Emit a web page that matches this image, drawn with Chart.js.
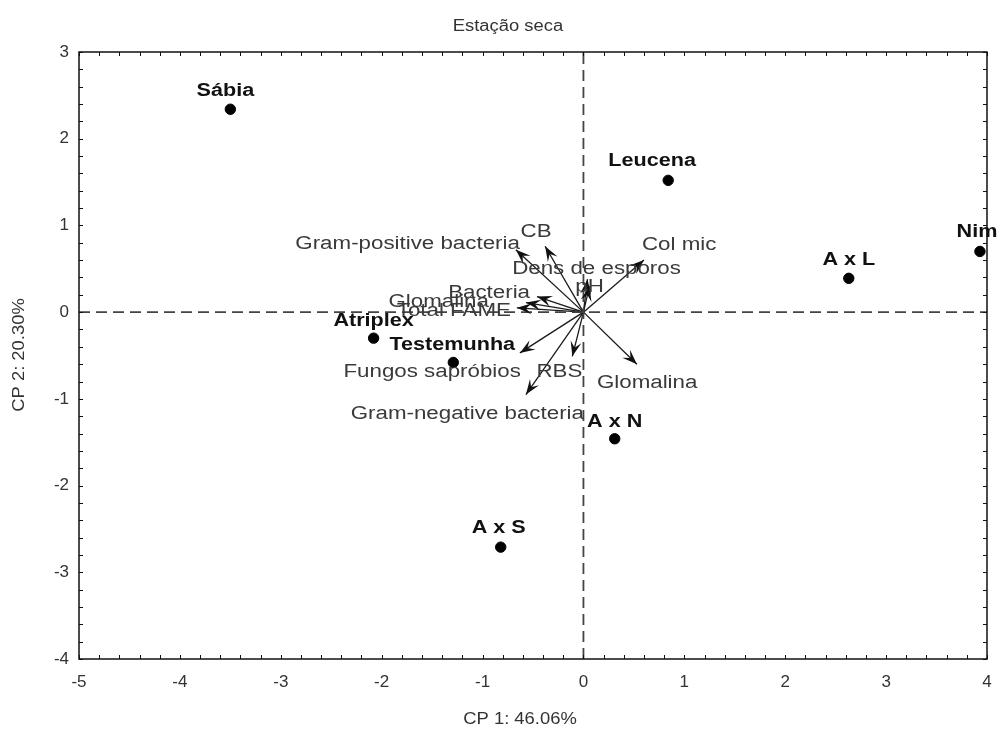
<!DOCTYPE html>
<html>
<head>
<meta charset="utf-8">
<script src="https://cdn.jsdelivr.net/npm/chart.js@4/dist/chart.umd.min.js"></script>
<style>
  html, body { margin: 0; padding: 0; background: #fff; overflow: hidden; }
  canvas { display: block; }
</style>
</head>
<body>
<canvas id="pca" width="997" height="733"></canvas>
<script>
// Scores of the treatments on the first two principal components
const treatments = ['Sábia', 'Leucena', 'Nim', 'A x L', 'Atriplex', 'Testemunha', 'A x N', 'A x S'];
const scoreCP1 = [-3.50, 0.84, 3.93, 2.63, -2.08, -1.29, 0.31, -0.82];
const scoreCP2 = [2.34, 1.52, 0.70, 0.39, -0.30, -0.58, -1.46, -2.71];

// Variable loadings (arrows drawn from the origin)
const variables = ['Gram-positive bacteria', 'CB', 'Col mic', 'Dens de esporos', 'pH', 'Bacteria',
                   'Glomalina', 'Total FAME', 'Fungos sapróbios', 'RBS', 'Glomalina', 'Gram-negative bacteria'];
const loadCP1 = [-0.67, -0.38, 0.60, 0.06, 0.04, -0.46, -0.57, -0.66, -0.63, -0.11, 0.53, -0.57];
const loadCP2 = [0.72, 0.76, 0.60, 0.30, 0.38, 0.18, 0.11, 0.05, -0.47, -0.51, -0.60, -0.95];

// Axis ranges and labels
const xTicks = [-5, -4, -3, -2, -1, 0, 1, 2, 3, 4];
const yTicks = [-4, -3, -2, -1, 0, 1, 2, 3];
const chartTitle = 'Estação seca';
const xTitle = 'CP 1: 46.06%';
const yTitle = 'CP 2: 20.30%';

// Text placement for the arrow labels: [align, dx, dy] in pixels from the arrow tip
const arrowLabelPlacement = [
  ['right', 4, -6], ['center', -9, -14], ['left', -2, -15], ['center', 7, -17],
  ['center', 2, 8], ['right', -7, -4], ['right', -37, -1], ['right', -6, 3],
  ['right', 1, 19], ['right', 10, 16], ['left', -40, 19], ['right', 58, 20]
];
// Text placement for the treatment names: [dx, dy] in pixels from the dot
const pointLabelPlacement = [[-5, -18], [-16, -19], [-3, -19], [0, -18], [0, -17], [-1, -17], [0, -17], [-2, -19]];

const FONT = '"Liberation Sans", Arial, sans-serif';

function stretchedText(ctx, text, x, y, align, font, color, sx) {
  ctx.save();
  ctx.font = font;
  ctx.fillStyle = color;
  ctx.textAlign = align;
  ctx.textBaseline = 'middle';
  ctx.translate(x, y);
  ctx.scale(sx, 1);
  ctx.fillText(text, 0, 0);
  ctx.restore();
}

const biplotDecor = {
  id: 'biplotDecor',
  afterDatasetsDraw(chart) {
    const { ctx, chartArea: a, scales: { x, y } } = chart;
    ctx.save();
    // Frame
    ctx.strokeStyle = '#111';
    ctx.lineWidth = 1.5;
    ctx.strokeRect(a.left, a.top, a.right - a.left, a.bottom - a.top);
    // Inward minor ticks on all four sides
    ctx.lineWidth = 1;
    ctx.beginPath();
    for (let i = 0; i <= 45; i++) {
      const v = xTicks[0] + i * 0.2;
      const px = Math.round(x.getPixelForValue(v)) + 0.5;
      ctx.moveTo(px, a.bottom); ctx.lineTo(px, a.bottom - 4);
      ctx.moveTo(px, a.top); ctx.lineTo(px, a.top + 4);
    }
    for (let i = 0; i <= 35; i++) {
      const v = yTicks[0] + i * 0.2;
      const py = Math.round(y.getPixelForValue(v)) + 0.5;
      ctx.moveTo(a.left, py); ctx.lineTo(a.left + 4, py);
      ctx.moveTo(a.right, py); ctx.lineTo(a.right - 4, py);
    }
    ctx.stroke();

    // Arrowheads at the loading tips
    const ox = x.getPixelForValue(0), oy = y.getPixelForValue(0);
    ctx.fillStyle = '#111';
    for (let i = 0; i < variables.length; i++) {
      const tx = x.getPixelForValue(loadCP1[i]), ty = y.getPixelForValue(loadCP2[i]);
      const ang = Math.atan2(ty - oy, tx - ox);
      const c = Math.cos(ang), s = Math.sin(ang);
      const L = 15, W = 5.5;
      ctx.beginPath();
      ctx.moveTo(tx, ty);
      ctx.lineTo(tx - L * c - W * s, ty - L * s + W * c);
      ctx.lineTo(tx - 0.6 * L * c, ty - 0.6 * L * s);
      ctx.lineTo(tx - L * c + W * s, ty - L * s - W * c);
      ctx.closePath();
      ctx.fill();
    }
    // Arrow labels
    for (let i = 0; i < variables.length; i++) {
      const tx = x.getPixelForValue(loadCP1[i]), ty = y.getPixelForValue(loadCP2[i]);
      const [align, dx, dy] = arrowLabelPlacement[i];
      stretchedText(ctx, variables[i], tx + dx, ty + dy, align, '18px ' + FONT, '#3a3a3a', 1.24);
    }
    // Treatment labels
    for (let i = 0; i < treatments.length; i++) {
      const px = x.getPixelForValue(scoreCP1[i]), py = y.getPixelForValue(scoreCP2[i]);
      const [dx, dy] = pointLabelPlacement[i];
      stretchedText(ctx, treatments[i], px + dx, py + dy, 'center', 'bold 18px ' + FONT, '#111', 1.2);
    }
    // Titles
    stretchedText(ctx, chartTitle, 508, 27, 'center', '16px ' + FONT, '#333', 1.15);
    stretchedText(ctx, xTitle, 520, 720, 'center', '16px ' + FONT, '#333', 1.15);
    ctx.save();
    ctx.translate(20, 355);
    ctx.rotate(-Math.PI / 2);
    stretchedText(ctx, yTitle, 0, 0, 'center', '16px ' + FONT, '#333', 1.15);
    ctx.restore();
    ctx.restore();
  }
};

const datasets = [
  { data: [{ x: xTicks[0], y: 0 }, { x: xTicks[xTicks.length - 1], y: 0 }], showLine: true,
    borderColor: '#444', borderWidth: 1.8, borderDash: [11, 6], pointRadius: 0 },
  { data: [{ x: 0, y: yTicks[0] }, { x: 0, y: yTicks[yTicks.length - 1] }], showLine: true,
    borderColor: '#444', borderWidth: 1.8, borderDash: [11, 6], pointRadius: 0 }
];
variables.forEach((name, i) => {
  datasets.push({ label: name, data: [{ x: 0, y: 0 }, { x: loadCP1[i], y: loadCP2[i] }], showLine: true,
    borderColor: '#1a1a1a', borderWidth: 1.3, pointRadius: 0 });
});
datasets.push({
  label: 'Tratamentos',
  data: treatments.map((t, i) => ({ x: scoreCP1[i], y: scoreCP2[i] })),
  pointRadius: 5.2, pointBackgroundColor: '#000', pointBorderColor: '#000', showLine: false
});

new Chart(document.getElementById('pca'), {
  type: 'scatter',
  data: { datasets },
  options: {
    responsive: false,
    animation: false,
    layout: { padding: { left: 0, top: 52, right: 10, bottom: 0 } },
    plugins: { legend: { display: false }, tooltip: { enabled: false }, title: { display: false } },
    scales: {
      x: {
        type: 'linear', min: xTicks[0], max: xTicks[xTicks.length - 1],
        afterBuildTicks: s => { s.ticks = xTicks.map(v => ({ value: v })); },
        afterFit: s => { s.height = 74; s.paddingLeft = 0; s.paddingRight = 0; },
        grid: { display: false, drawTicks: false },
        border: { display: false },
        ticks: { padding: 13, color: '#333', font: { family: FONT, size: 17 }, maxRotation: 0 }
      },
      y: {
        type: 'linear', min: yTicks[0], max: yTicks[yTicks.length - 1],
        afterBuildTicks: s => { s.ticks = yTicks.map(v => ({ value: v })); },
        afterFit: s => { s.width = 79; s.paddingTop = 0; s.paddingBottom = 0; },
        grid: { display: false, drawTicks: false },
        border: { display: false },
        ticks: { padding: 10, color: '#333', font: { family: FONT, size: 17 } }
      }
    }
  },
  plugins: [biplotDecor]
});
</script>
</body>
</html>
